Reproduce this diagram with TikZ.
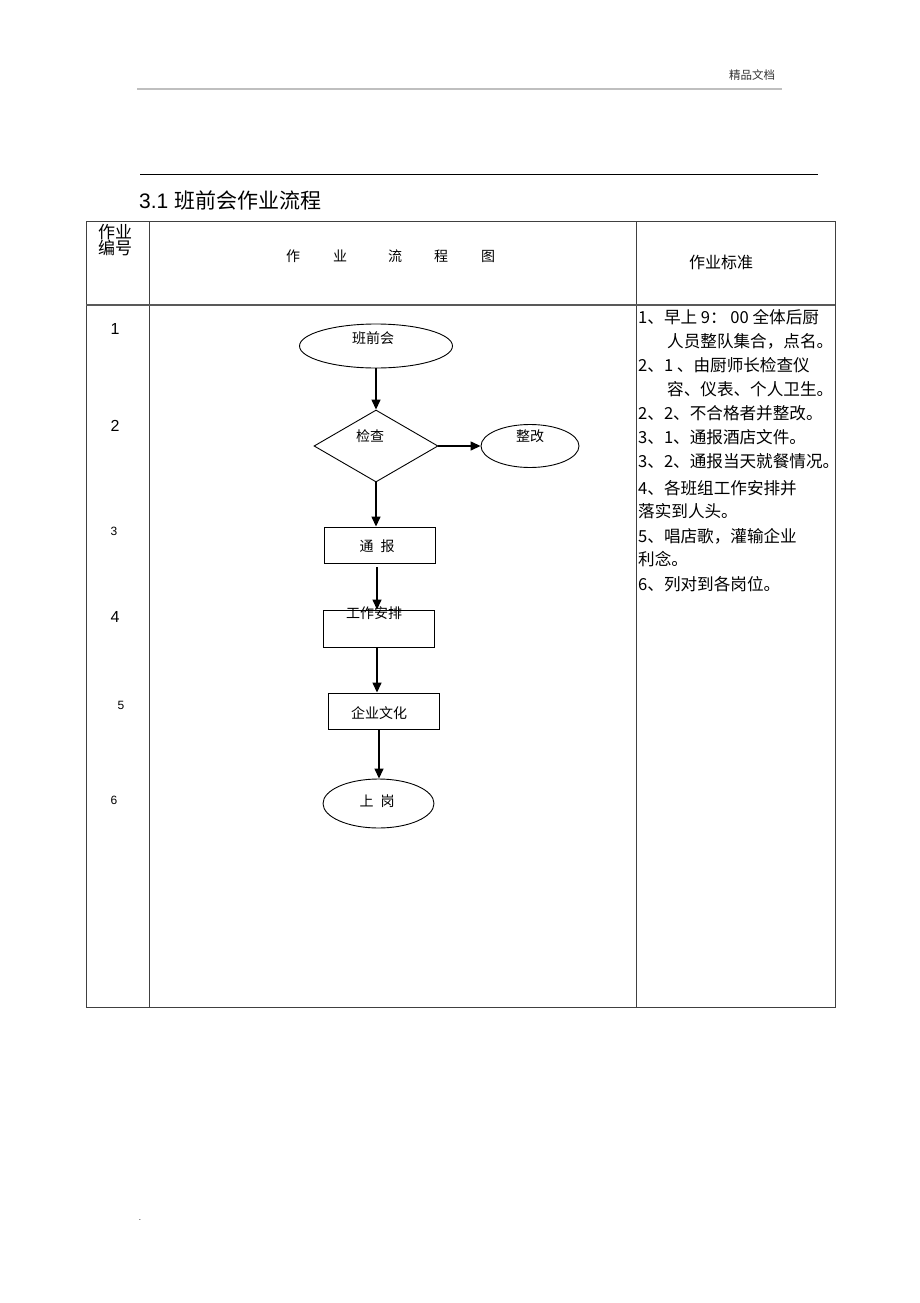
\documentclass[tikz,border=0pt]{standalone}
\usepackage{fontspec}
\setmainfont{Liberation Sans}
\newfontfamily\cjk{Noto Sans CJK SC}
\usetikzlibrary{shapes.geometric,arrows.meta}
\begin{document}
\begin{tikzpicture}[x=1pt,y=-1pt,
  tline/.style={draw=black!75,line width=1pt},
  shp/.style={draw=black,line width=0.9pt,inner sep=0pt},
  ell/.style={shp,ellipse},
  boxn/.style={shp,rectangle},
  lbl/.style={inner sep=0pt,font=\cjk\fontsize{14}{14}\selectfont},
  std/.style={inner sep=0pt,anchor=west,font=\cjk\fontsize{16.6}{16.6}\selectfont},
  num/.style={inner sep=0pt,font=\fontsize{16}{16}\selectfont},
  nums/.style={inner sep=0pt,font=\fontsize{12}{12}\selectfont},
  arr/.style={draw=black,line width=1.4pt,-{Triangle[length=10pt,width=9pt]}}
]
\useasboundingbox (0,0) rectangle (920,1303);
% page header
\node[inner sep=0pt,font=\cjk\fontsize{11.5}{11.5}\selectfont,text=black!80] (hdr) at (752,75) {精品文档};
\draw[draw=black!25,line width=2pt] (137,89) -- (782,89);
\draw[draw=black,line width=1pt] (140,174) -- (818,174);
\node[inner sep=0pt,anchor=west,font=\fontsize{21}{21}\selectfont] (title) at (139,200) {3.1 {\cjk 班前会作业流程}};
% table
\draw[tline] (86,221) rectangle (835,1007);
\draw[tline] (149,221) -- (149,1007);
\draw[tline] (636,221) -- (636,1007);
\draw[tline,line width=1.3pt,draw=black!65] (86,305) -- (835,305);
% header row
\node[inner sep=0pt,font=\cjk\fontsize{17}{17}\selectfont] (h1a) at (115,232) {作业};
\node[inner sep=0pt,font=\cjk\fontsize{17}{17}\selectfont] (h1b) at (115,248) {编号};
\node[lbl] (h2a) at (293,256) {作};
\node[lbl] (h2b) at (340,256) {业};
\node[lbl] (h2c) at (395,256) {流};
\node[lbl] (h2d) at (441,256) {程};
\node[lbl] (h2e) at (488,256) {图};
\node[inner sep=0pt,font=\cjk\fontsize{16}{16}\selectfont] (h3) at (721,262) {作业标准};
% numbers
\node[num] (n1) at (115,329) {1};
\node[num] (n2) at (115,426) {2};
\node[nums] (n3) at (114,531) {3};
\node[num] (n4) at (115,617) {4};
\node[nums] (n5) at (121,705) {5};
\node[nums] (n6) at (114,800) {6};
% flow chart
\node[ell,minimum width=153pt,minimum height=44pt] (bqh) at (376,346) {};
\node[lbl] (bqht) at (373,338) {班前会};
\node[shp,diamond,minimum width=124pt,minimum height=72pt] (chk) at (376,446) {};
\node[lbl] (chkt) at (370,436) {检查};
\node[ell,minimum width=98pt,minimum height=43pt] (zg) at (530,446) {};
\node[lbl] (zgt) at (530,436) {整改};
\node[boxn,minimum width=111pt,minimum height=36pt] (tb) at (379.5,545) {};
\node[lbl] (tbt) at (377,546) {通\hspace{7pt}报};
\node[boxn,minimum width=111pt,minimum height=37pt] (gz) at (378.5,628.5) {};
\node[lbl] (gzt) at (374,613) {工作安排};
\node[boxn,minimum width=111pt,minimum height=36pt] (qy) at (383.5,711) {};
\node[lbl] (qyt) at (379,713) {企业文化};
\node[ell,minimum width=111pt,minimum height=49pt] (sg) at (378.5,803.5) {};
\node[lbl] (sgt) at (377,801) {上\hspace{7pt}岗};
\coordinate (c3) at (377,567);
\coordinate (c4) at (377,647);
\coordinate (c5) at (379,729);
\draw[arr] (bqh.south) -- (chk.north);
\draw[arr] (chk.east) -- (zg.west);
\draw[arr] (chk.south) -- (chk.south |- tb.north);
\draw[arr] (c3) -- (c3 |- gz.north);
\draw[arr] (c4) -- (c4 |- qy.north);
\draw[arr] (c5) -- (c5 |- sg.north);
% standards column
\node[std] (s1) at (638,317) {1、早上 9： 00 全体后厨};
\node[std] (s2) at (667,341) {人员整队集合，点名。};
\node[std] (s3) at (638,365) {2、1 、由厨师长检查仪};
\node[std] (s4) at (667,389) {容、仪表、个人卫生。};
\node[std] (s5) at (638,413) {2、2、不合格者并整改。};
\node[std] (s6) at (638,437) {3、1、通报酒店文件。};
\node[std] (s7) at (638,461) {3、2、通报当天就餐情况。};
\node[std] (s8) at (638,488) {4、各班组工作安排并};
\node[std] (s9) at (638,511) {落实到人头。};
\node[std] (s10) at (638,536) {5、唱店歌，灌输企业};
\node[std] (s11) at (638,559) {利念。};
\node[std] (s12) at (638,584) {6、列对到各岗位。};
\node[inner sep=0pt,font=\fontsize{8}{8}\selectfont] (dot) at (140,1220) {.};
\end{tikzpicture}
\end{document}
